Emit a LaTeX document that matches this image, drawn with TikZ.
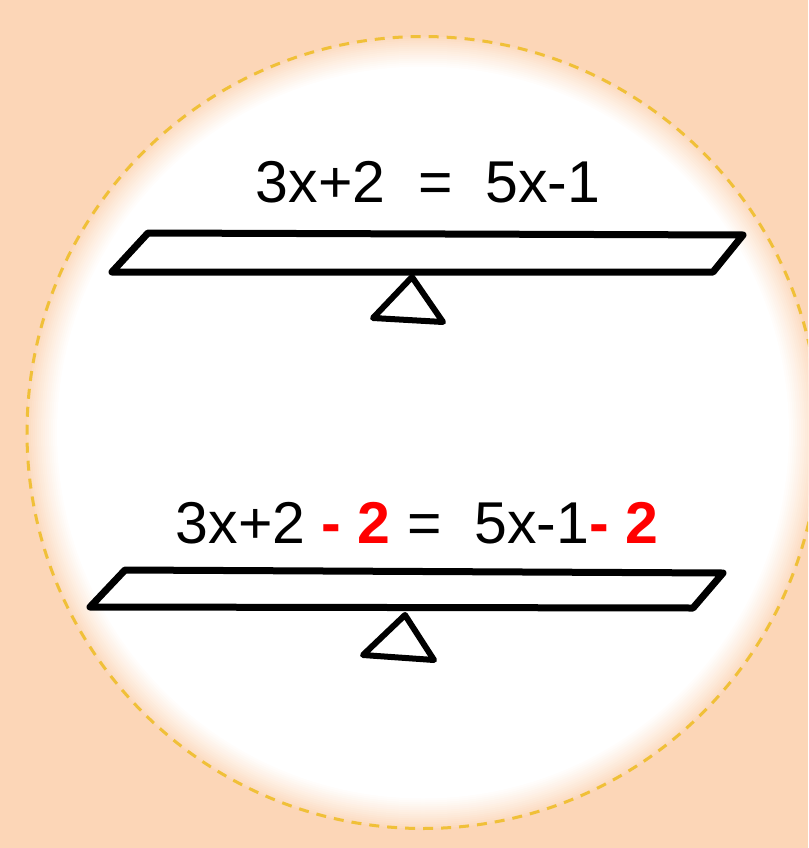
\documentclass[tikz,border=0pt]{standalone}
\usepackage{fontspec}
\setmainfont{Liberation Sans}
\usepackage{xcolor}
\usepackage{tikz}
\definecolor{sheetPeach}{HTML}{FCD6B7}
\definecolor{sheetGold}{HTML}{F0C038}
\definecolor{sheetRed}{HTML}{FF0000}
\newcommand{\takeaway}[1]{{\bfseries\color{sheetRed}#1}}
\tikzset{
  beam/.style={line width=7pt, line join=round, line cap=round, fill=white},
  pivot/.style={line width=6pt, line join=round, fill=white},
  rim/.style={sheetGold, line width=3pt, dash pattern=on 10pt off 8pt},
  eq/.style={anchor=base, inner sep=0pt, font=\fontsize{59}{68}\selectfont},
}

\begin{document}
\begin{tikzpicture}[x=1pt, y=-1pt]
  \useasboundingbox (0,0) rectangle (808,848);
  \fill[sheetPeach] (0,0) rectangle (808,848);
  % white disc fading into the peach sheet
  \begin{scope}
    \clip (0,0) rectangle (808,848);
    \foreach \i in {0,...,16} {
      \pgfmathsetmacro{\mix}{100*(\i/16)^0.8}
      \fill[white!\mix!sheetPeach] (423,432.5) circle ({398-2*\i});
    }
    \draw[rim] (423,432.5) circle (396);
  \end{scope}
  % first balance: the equation as given
  \node[eq] (given) at (428,202) {3x+2\ \ =\ \ 5x-1};
  \draw[beam] (148,233) -- (743,235) -- (713,272) -- (112,272) -- cycle;
  \draw[pivot] (412,277) -- (443,322) -- (373,318) -- cycle;
  % second balance: 2 taken from both sides
  \node[eq] (taken) at (417,543)
    {3x+2 \takeaway{- 2} =\ \ 5x-1\takeaway{- 2}};
  \draw[beam] (125,570) -- (723,573) -- (693,608) -- (90,607) -- cycle;
  \draw[pivot] (405,615) -- (434,660) -- (363,655) -- cycle;
\end{tikzpicture}
\end{document}
